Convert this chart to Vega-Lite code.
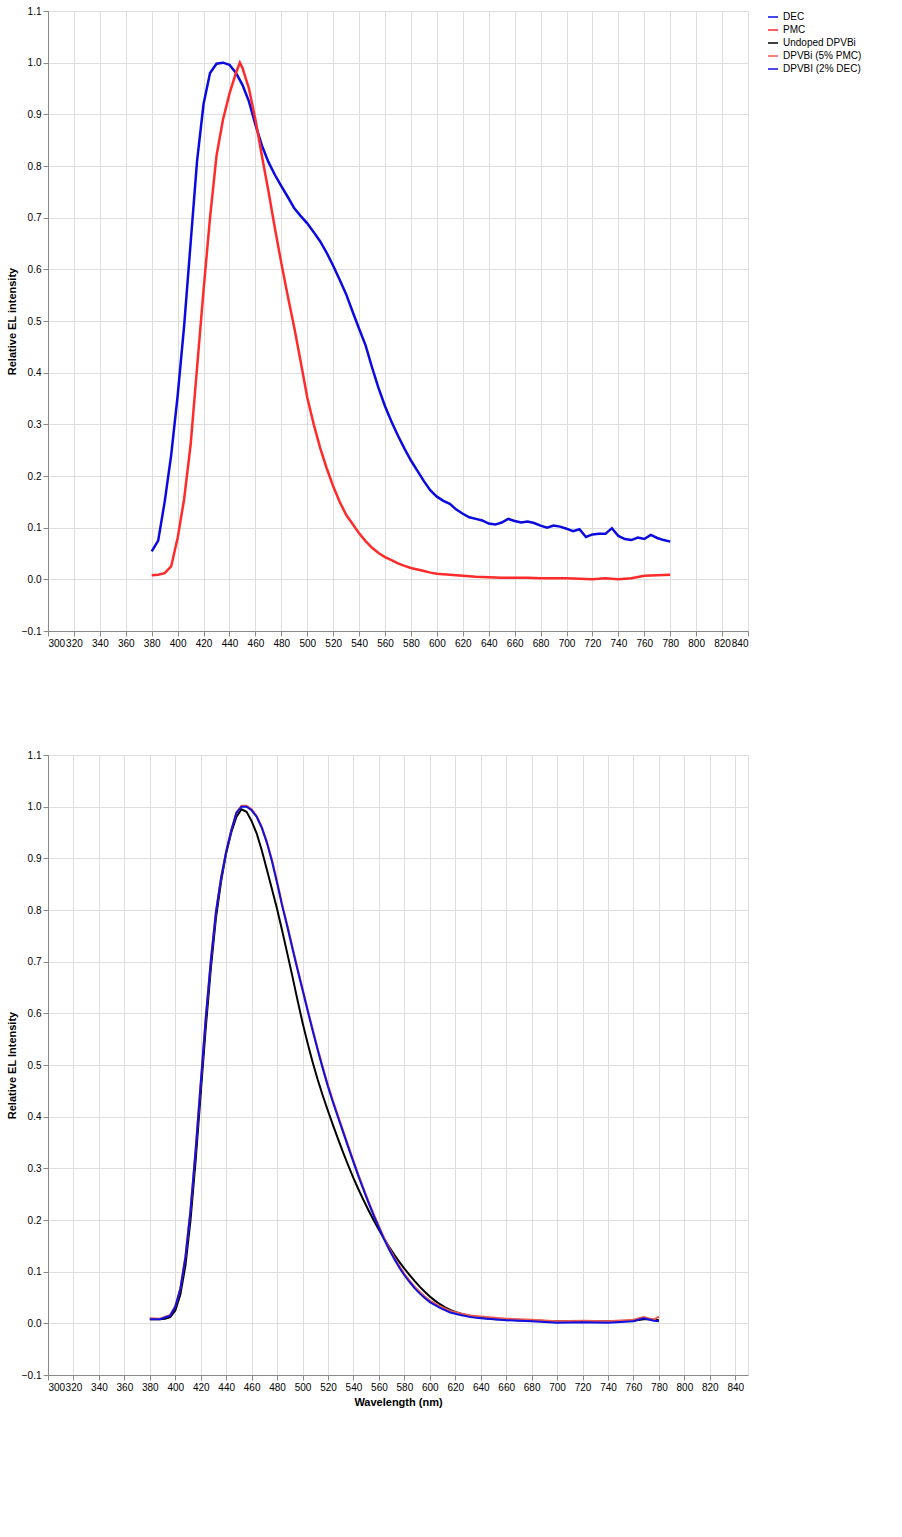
{
  "$schema": "https://vega.github.io/schema/vega-lite/v6.json",
  "background": "white",
  "spacing": 100,
  "vconcat": [
    {
      "width": 700,
      "height": 620,
      "data": {"values": [
        {"nm":380,"v":0.054,"series":"DEC"},{"nm":385,"v":0.075,"series":"DEC"},{"nm":390,"v":0.150,"series":"DEC"},{"nm":395,"v":0.240,"series":"DEC"},{"nm":400,"v":0.355,"series":"DEC"},{"nm":405,"v":0.490,"series":"DEC"},{"nm":410,"v":0.650,"series":"DEC"},{"nm":415,"v":0.810,"series":"DEC"},{"nm":420,"v":0.920,"series":"DEC"},{"nm":425,"v":0.980,"series":"DEC"},{"nm":430,"v":0.998,"series":"DEC"},{"nm":435,"v":1.000,"series":"DEC"},{"nm":440,"v":0.996,"series":"DEC"},{"nm":445,"v":0.980,"series":"DEC"},{"nm":450,"v":0.957,"series":"DEC"},{"nm":455,"v":0.925,"series":"DEC"},{"nm":460,"v":0.880,"series":"DEC"},{"nm":465,"v":0.840,"series":"DEC"},{"nm":470,"v":0.808,"series":"DEC"},{"nm":475,"v":0.783,"series":"DEC"},{"nm":480,"v":0.761,"series":"DEC"},{"nm":485,"v":0.740,"series":"DEC"},{"nm":490,"v":0.718,"series":"DEC"},{"nm":495,"v":0.703,"series":"DEC"},{"nm":500,"v":0.689,"series":"DEC"},{"nm":505,"v":0.672,"series":"DEC"},{"nm":510,"v":0.654,"series":"DEC"},{"nm":515,"v":0.632,"series":"DEC"},{"nm":520,"v":0.607,"series":"DEC"},{"nm":525,"v":0.580,"series":"DEC"},{"nm":530,"v":0.552,"series":"DEC"},{"nm":535,"v":0.518,"series":"DEC"},{"nm":540,"v":0.485,"series":"DEC"},{"nm":545,"v":0.453,"series":"DEC"},{"nm":550,"v":0.410,"series":"DEC"},{"nm":555,"v":0.370,"series":"DEC"},{"nm":560,"v":0.335,"series":"DEC"},{"nm":565,"v":0.305,"series":"DEC"},{"nm":570,"v":0.278,"series":"DEC"},{"nm":575,"v":0.253,"series":"DEC"},{"nm":580,"v":0.230,"series":"DEC"},{"nm":585,"v":0.210,"series":"DEC"},{"nm":590,"v":0.190,"series":"DEC"},{"nm":595,"v":0.172,"series":"DEC"},{"nm":600,"v":0.160,"series":"DEC"},{"nm":605,"v":0.152,"series":"DEC"},{"nm":610,"v":0.146,"series":"DEC"},{"nm":615,"v":0.135,"series":"DEC"},{"nm":620,"v":0.127,"series":"DEC"},{"nm":625,"v":0.120,"series":"DEC"},{"nm":630,"v":0.117,"series":"DEC"},{"nm":635,"v":0.114,"series":"DEC"},{"nm":640,"v":0.108,"series":"DEC"},{"nm":645,"v":0.106,"series":"DEC"},{"nm":650,"v":0.110,"series":"DEC"},{"nm":655,"v":0.117,"series":"DEC"},{"nm":660,"v":0.113,"series":"DEC"},{"nm":665,"v":0.110,"series":"DEC"},{"nm":670,"v":0.112,"series":"DEC"},{"nm":675,"v":0.109,"series":"DEC"},{"nm":680,"v":0.104,"series":"DEC"},{"nm":685,"v":0.100,"series":"DEC"},{"nm":690,"v":0.104,"series":"DEC"},{"nm":695,"v":0.102,"series":"DEC"},{"nm":700,"v":0.098,"series":"DEC"},{"nm":705,"v":0.093,"series":"DEC"},{"nm":710,"v":0.097,"series":"DEC"},{"nm":715,"v":0.082,"series":"DEC"},{"nm":720,"v":0.087,"series":"DEC"},{"nm":725,"v":0.088,"series":"DEC"},{"nm":730,"v":0.088,"series":"DEC"},{"nm":735,"v":0.099,"series":"DEC"},{"nm":740,"v":0.084,"series":"DEC"},{"nm":745,"v":0.078,"series":"DEC"},{"nm":750,"v":0.076,"series":"DEC"},{"nm":755,"v":0.081,"series":"DEC"},{"nm":760,"v":0.078,"series":"DEC"},{"nm":765,"v":0.086,"series":"DEC"},{"nm":770,"v":0.080,"series":"DEC"},{"nm":775,"v":0.076,"series":"DEC"},{"nm":780,"v":0.073,"series":"DEC"},
        {"nm":380,"v":0.008,"series":"PMC"},{"nm":385,"v":0.009,"series":"PMC"},{"nm":390,"v":0.012,"series":"PMC"},{"nm":395,"v":0.025,"series":"PMC"},{"nm":400,"v":0.080,"series":"PMC"},{"nm":405,"v":0.155,"series":"PMC"},{"nm":410,"v":0.260,"series":"PMC"},{"nm":415,"v":0.410,"series":"PMC"},{"nm":420,"v":0.560,"series":"PMC"},{"nm":425,"v":0.700,"series":"PMC"},{"nm":430,"v":0.820,"series":"PMC"},{"nm":435,"v":0.890,"series":"PMC"},{"nm":440,"v":0.940,"series":"PMC"},{"nm":445,"v":0.980,"series":"PMC"},{"nm":448,"v":1.000,"series":"PMC"},{"nm":450,"v":0.990,"series":"PMC"},{"nm":455,"v":0.950,"series":"PMC"},{"nm":460,"v":0.890,"series":"PMC"},{"nm":465,"v":0.820,"series":"PMC"},{"nm":470,"v":0.752,"series":"PMC"},{"nm":475,"v":0.680,"series":"PMC"},{"nm":480,"v":0.612,"series":"PMC"},{"nm":485,"v":0.548,"series":"PMC"},{"nm":490,"v":0.487,"series":"PMC"},{"nm":495,"v":0.420,"series":"PMC"},{"nm":500,"v":0.352,"series":"PMC"},{"nm":505,"v":0.300,"series":"PMC"},{"nm":510,"v":0.254,"series":"PMC"},{"nm":515,"v":0.215,"series":"PMC"},{"nm":520,"v":0.180,"series":"PMC"},{"nm":525,"v":0.150,"series":"PMC"},{"nm":530,"v":0.125,"series":"PMC"},{"nm":535,"v":0.107,"series":"PMC"},{"nm":540,"v":0.089,"series":"PMC"},{"nm":545,"v":0.074,"series":"PMC"},{"nm":550,"v":0.061,"series":"PMC"},{"nm":555,"v":0.051,"series":"PMC"},{"nm":560,"v":0.043,"series":"PMC"},{"nm":565,"v":0.037,"series":"PMC"},{"nm":570,"v":0.031,"series":"PMC"},{"nm":575,"v":0.026,"series":"PMC"},{"nm":580,"v":0.022,"series":"PMC"},{"nm":585,"v":0.019,"series":"PMC"},{"nm":590,"v":0.016,"series":"PMC"},{"nm":595,"v":0.013,"series":"PMC"},{"nm":600,"v":0.011,"series":"PMC"},{"nm":610,"v":0.009,"series":"PMC"},{"nm":620,"v":0.007,"series":"PMC"},{"nm":630,"v":0.005,"series":"PMC"},{"nm":640,"v":0.004,"series":"PMC"},{"nm":650,"v":0.003,"series":"PMC"},{"nm":660,"v":0.003,"series":"PMC"},{"nm":670,"v":0.003,"series":"PMC"},{"nm":680,"v":0.002,"series":"PMC"},{"nm":690,"v":0.002,"series":"PMC"},{"nm":700,"v":0.002,"series":"PMC"},{"nm":710,"v":0.001,"series":"PMC"},{"nm":720,"v":0.000,"series":"PMC"},{"nm":730,"v":0.002,"series":"PMC"},{"nm":740,"v":0.000,"series":"PMC"},{"nm":750,"v":0.002,"series":"PMC"},{"nm":760,"v":0.007,"series":"PMC"},{"nm":770,"v":0.008,"series":"PMC"},{"nm":780,"v":0.009,"series":"PMC"}
      ]},
      "mark": {"type": "line", "strokeWidth": 2.5},
      "encoding": {
        "x": {"field": "nm", "type": "quantitative", "scale": {"domain": [300, 840], "nice": false, "zero": false}, "title": null},
        "y": {"field": "v", "type": "quantitative", "scale": {"domain": [-0.1, 1.1], "nice": false, "zero": false}, "title": "Relative EL intensity"},
        "color": {"field": "series", "type": "nominal", "scale": {"domain": ["DEC", "PMC", "Undoped DPVBi", "DPVBi (5% PMC)", "DPVBI (2% DEC)"], "range": ["#0a0ae0", "#ff2a2a", "#000000", "#ec5a50", "#1010e0"]}, "title": null}
      }
    },
    {
      "width": 700,
      "height": 620,
      "data": {"values": [
        {"nm":380,"v":0.008,"series":"Undoped DPVBi"},{"nm":384,"v":0.008,"series":"Undoped DPVBi"},{"nm":388,"v":0.008,"series":"Undoped DPVBi"},{"nm":392,"v":0.009,"series":"Undoped DPVBi"},{"nm":396,"v":0.012,"series":"Undoped DPVBi"},{"nm":400,"v":0.025,"series":"Undoped DPVBi"},{"nm":404,"v":0.056,"series":"Undoped DPVBi"},{"nm":408,"v":0.112,"series":"Undoped DPVBi"},{"nm":412,"v":0.200,"series":"Undoped DPVBi"},{"nm":416,"v":0.315,"series":"Undoped DPVBi"},{"nm":420,"v":0.445,"series":"Undoped DPVBi"},{"nm":424,"v":0.573,"series":"Undoped DPVBi"},{"nm":428,"v":0.688,"series":"Undoped DPVBi"},{"nm":432,"v":0.785,"series":"Undoped DPVBi"},{"nm":436,"v":0.855,"series":"Undoped DPVBi"},{"nm":440,"v":0.910,"series":"Undoped DPVBi"},{"nm":444,"v":0.950,"series":"Undoped DPVBi"},{"nm":448,"v":0.980,"series":"Undoped DPVBi"},{"nm":452,"v":0.995,"series":"Undoped DPVBi"},{"nm":456,"v":0.990,"series":"Undoped DPVBi"},{"nm":460,"v":0.972,"series":"Undoped DPVBi"},{"nm":464,"v":0.948,"series":"Undoped DPVBi"},{"nm":468,"v":0.915,"series":"Undoped DPVBi"},{"nm":472,"v":0.878,"series":"Undoped DPVBi"},{"nm":476,"v":0.840,"series":"Undoped DPVBi"},{"nm":480,"v":0.802,"series":"Undoped DPVBi"},{"nm":484,"v":0.760,"series":"Undoped DPVBi"},{"nm":488,"v":0.716,"series":"Undoped DPVBi"},{"nm":492,"v":0.672,"series":"Undoped DPVBi"},{"nm":496,"v":0.626,"series":"Undoped DPVBi"},{"nm":500,"v":0.582,"series":"Undoped DPVBi"},{"nm":504,"v":0.542,"series":"Undoped DPVBi"},{"nm":508,"v":0.505,"series":"Undoped DPVBi"},{"nm":512,"v":0.471,"series":"Undoped DPVBi"},{"nm":516,"v":0.440,"series":"Undoped DPVBi"},{"nm":520,"v":0.411,"series":"Undoped DPVBi"},{"nm":524,"v":0.383,"series":"Undoped DPVBi"},{"nm":528,"v":0.356,"series":"Undoped DPVBi"},{"nm":532,"v":0.330,"series":"Undoped DPVBi"},{"nm":536,"v":0.305,"series":"Undoped DPVBi"},{"nm":540,"v":0.281,"series":"Undoped DPVBi"},{"nm":544,"v":0.259,"series":"Undoped DPVBi"},{"nm":548,"v":0.238,"series":"Undoped DPVBi"},{"nm":552,"v":0.218,"series":"Undoped DPVBi"},{"nm":556,"v":0.199,"series":"Undoped DPVBi"},{"nm":560,"v":0.181,"series":"Undoped DPVBi"},{"nm":564,"v":0.164,"series":"Undoped DPVBi"},{"nm":568,"v":0.148,"series":"Undoped DPVBi"},{"nm":572,"v":0.133,"series":"Undoped DPVBi"},{"nm":576,"v":0.119,"series":"Undoped DPVBi"},{"nm":580,"v":0.106,"series":"Undoped DPVBi"},{"nm":584,"v":0.094,"series":"Undoped DPVBi"},{"nm":588,"v":0.082,"series":"Undoped DPVBi"},{"nm":592,"v":0.071,"series":"Undoped DPVBi"},{"nm":596,"v":0.061,"series":"Undoped DPVBi"},{"nm":600,"v":0.052,"series":"Undoped DPVBi"},{"nm":604,"v":0.044,"series":"Undoped DPVBi"},{"nm":608,"v":0.037,"series":"Undoped DPVBi"},{"nm":612,"v":0.031,"series":"Undoped DPVBi"},{"nm":616,"v":0.026,"series":"Undoped DPVBi"},{"nm":620,"v":0.022,"series":"Undoped DPVBi"},{"nm":624,"v":0.019,"series":"Undoped DPVBi"},{"nm":628,"v":0.016,"series":"Undoped DPVBi"},{"nm":632,"v":0.014,"series":"Undoped DPVBi"},{"nm":636,"v":0.012,"series":"Undoped DPVBi"},{"nm":640,"v":0.011,"series":"Undoped DPVBi"},{"nm":644,"v":0.010,"series":"Undoped DPVBi"},{"nm":648,"v":0.009,"series":"Undoped DPVBi"},{"nm":652,"v":0.008,"series":"Undoped DPVBi"},{"nm":656,"v":0.008,"series":"Undoped DPVBi"},{"nm":660,"v":0.007,"series":"Undoped DPVBi"},{"nm":664,"v":0.007,"series":"Undoped DPVBi"},{"nm":668,"v":0.006,"series":"Undoped DPVBi"},{"nm":672,"v":0.006,"series":"Undoped DPVBi"},{"nm":676,"v":0.006,"series":"Undoped DPVBi"},{"nm":680,"v":0.005,"series":"Undoped DPVBi"},{"nm":684,"v":0.005,"series":"Undoped DPVBi"},{"nm":688,"v":0.005,"series":"Undoped DPVBi"},{"nm":692,"v":0.004,"series":"Undoped DPVBi"},{"nm":696,"v":0.004,"series":"Undoped DPVBi"},{"nm":700,"v":0.004,"series":"Undoped DPVBi"},{"nm":710,"v":0.004,"series":"Undoped DPVBi"},{"nm":720,"v":0.004,"series":"Undoped DPVBi"},{"nm":730,"v":0.004,"series":"Undoped DPVBi"},{"nm":740,"v":0.004,"series":"Undoped DPVBi"},{"nm":750,"v":0.004,"series":"Undoped DPVBi"},{"nm":760,"v":0.005,"series":"Undoped DPVBi"},{"nm":768,"v":0.008,"series":"Undoped DPVBi"},{"nm":772,"v":0.008,"series":"Undoped DPVBi"},{"nm":780,"v":0.006,"series":"Undoped DPVBi"},
        {"nm":380,"v":0.010,"series":"DPVBi (5% PMC)"},{"nm":388,"v":0.009,"series":"DPVBi (5% PMC)"},{"nm":396,"v":0.016,"series":"DPVBi (5% PMC)"},{"nm":400,"v":0.033,"series":"DPVBi (5% PMC)"},{"nm":404,"v":0.068,"series":"DPVBi (5% PMC)"},{"nm":408,"v":0.130,"series":"DPVBi (5% PMC)"},{"nm":412,"v":0.221,"series":"DPVBi (5% PMC)"},{"nm":416,"v":0.337,"series":"DPVBi (5% PMC)"},{"nm":420,"v":0.466,"series":"DPVBi (5% PMC)"},{"nm":424,"v":0.594,"series":"DPVBi (5% PMC)"},{"nm":428,"v":0.705,"series":"DPVBi (5% PMC)"},{"nm":432,"v":0.798,"series":"DPVBi (5% PMC)"},{"nm":436,"v":0.863,"series":"DPVBi (5% PMC)"},{"nm":440,"v":0.914,"series":"DPVBi (5% PMC)"},{"nm":444,"v":0.955,"series":"DPVBi (5% PMC)"},{"nm":448,"v":0.989,"series":"DPVBi (5% PMC)"},{"nm":452,"v":1.002,"series":"DPVBi (5% PMC)"},{"nm":456,"v":1.002,"series":"DPVBi (5% PMC)"},{"nm":460,"v":0.995,"series":"DPVBi (5% PMC)"},{"nm":464,"v":0.982,"series":"DPVBi (5% PMC)"},{"nm":468,"v":0.961,"series":"DPVBi (5% PMC)"},{"nm":472,"v":0.932,"series":"DPVBi (5% PMC)"},{"nm":476,"v":0.897,"series":"DPVBi (5% PMC)"},{"nm":480,"v":0.855,"series":"DPVBi (5% PMC)"},{"nm":484,"v":0.811,"series":"DPVBi (5% PMC)"},{"nm":488,"v":0.771,"series":"DPVBi (5% PMC)"},{"nm":492,"v":0.729,"series":"DPVBi (5% PMC)"},{"nm":496,"v":0.688,"series":"DPVBi (5% PMC)"},{"nm":500,"v":0.648,"series":"DPVBi (5% PMC)"},{"nm":504,"v":0.608,"series":"DPVBi (5% PMC)"},{"nm":508,"v":0.569,"series":"DPVBi (5% PMC)"},{"nm":512,"v":0.531,"series":"DPVBi (5% PMC)"},{"nm":516,"v":0.495,"series":"DPVBi (5% PMC)"},{"nm":520,"v":0.461,"series":"DPVBi (5% PMC)"},{"nm":524,"v":0.430,"series":"DPVBi (5% PMC)"},{"nm":528,"v":0.401,"series":"DPVBi (5% PMC)"},{"nm":532,"v":0.372,"series":"DPVBi (5% PMC)"},{"nm":536,"v":0.343,"series":"DPVBi (5% PMC)"},{"nm":540,"v":0.315,"series":"DPVBi (5% PMC)"},{"nm":544,"v":0.287,"series":"DPVBi (5% PMC)"},{"nm":548,"v":0.261,"series":"DPVBi (5% PMC)"},{"nm":552,"v":0.235,"series":"DPVBi (5% PMC)"},{"nm":556,"v":0.211,"series":"DPVBi (5% PMC)"},{"nm":560,"v":0.188,"series":"DPVBi (5% PMC)"},{"nm":564,"v":0.166,"series":"DPVBi (5% PMC)"},{"nm":568,"v":0.146,"series":"DPVBi (5% PMC)"},{"nm":572,"v":0.128,"series":"DPVBi (5% PMC)"},{"nm":576,"v":0.111,"series":"DPVBi (5% PMC)"},{"nm":580,"v":0.096,"series":"DPVBi (5% PMC)"},{"nm":584,"v":0.083,"series":"DPVBi (5% PMC)"},{"nm":588,"v":0.071,"series":"DPVBi (5% PMC)"},{"nm":592,"v":0.061,"series":"DPVBi (5% PMC)"},{"nm":596,"v":0.052,"series":"DPVBi (5% PMC)"},{"nm":600,"v":0.044,"series":"DPVBi (5% PMC)"},{"nm":608,"v":0.033,"series":"DPVBi (5% PMC)"},{"nm":616,"v":0.024,"series":"DPVBi (5% PMC)"},{"nm":624,"v":0.019,"series":"DPVBi (5% PMC)"},{"nm":632,"v":0.015,"series":"DPVBi (5% PMC)"},{"nm":640,"v":0.013,"series":"DPVBi (5% PMC)"},{"nm":660,"v":0.009,"series":"DPVBi (5% PMC)"},{"nm":680,"v":0.007,"series":"DPVBi (5% PMC)"},{"nm":700,"v":0.004,"series":"DPVBi (5% PMC)"},{"nm":720,"v":0.005,"series":"DPVBi (5% PMC)"},{"nm":740,"v":0.004,"series":"DPVBi (5% PMC)"},{"nm":760,"v":0.007,"series":"DPVBi (5% PMC)"},{"nm":768,"v":0.012,"series":"DPVBi (5% PMC)"},{"nm":776,"v":0.007,"series":"DPVBi (5% PMC)"},{"nm":780,"v":0.013,"series":"DPVBi (5% PMC)"},
        {"nm":380,"v":0.008,"series":"DPVBI (2% DEC)"},{"nm":388,"v":0.008,"series":"DPVBI (2% DEC)"},{"nm":396,"v":0.015,"series":"DPVBI (2% DEC)"},{"nm":400,"v":0.032,"series":"DPVBI (2% DEC)"},{"nm":404,"v":0.067,"series":"DPVBI (2% DEC)"},{"nm":408,"v":0.128,"series":"DPVBI (2% DEC)"},{"nm":412,"v":0.219,"series":"DPVBI (2% DEC)"},{"nm":416,"v":0.335,"series":"DPVBI (2% DEC)"},{"nm":420,"v":0.464,"series":"DPVBI (2% DEC)"},{"nm":424,"v":0.592,"series":"DPVBI (2% DEC)"},{"nm":428,"v":0.703,"series":"DPVBI (2% DEC)"},{"nm":432,"v":0.797,"series":"DPVBI (2% DEC)"},{"nm":436,"v":0.862,"series":"DPVBI (2% DEC)"},{"nm":440,"v":0.913,"series":"DPVBI (2% DEC)"},{"nm":444,"v":0.954,"series":"DPVBI (2% DEC)"},{"nm":448,"v":0.988,"series":"DPVBI (2% DEC)"},{"nm":452,"v":1.000,"series":"DPVBI (2% DEC)"},{"nm":456,"v":1.000,"series":"DPVBI (2% DEC)"},{"nm":460,"v":0.993,"series":"DPVBI (2% DEC)"},{"nm":464,"v":0.980,"series":"DPVBI (2% DEC)"},{"nm":468,"v":0.959,"series":"DPVBI (2% DEC)"},{"nm":472,"v":0.930,"series":"DPVBI (2% DEC)"},{"nm":476,"v":0.894,"series":"DPVBI (2% DEC)"},{"nm":480,"v":0.852,"series":"DPVBI (2% DEC)"},{"nm":484,"v":0.808,"series":"DPVBI (2% DEC)"},{"nm":488,"v":0.768,"series":"DPVBI (2% DEC)"},{"nm":492,"v":0.726,"series":"DPVBI (2% DEC)"},{"nm":496,"v":0.685,"series":"DPVBI (2% DEC)"},{"nm":500,"v":0.645,"series":"DPVBI (2% DEC)"},{"nm":504,"v":0.605,"series":"DPVBI (2% DEC)"},{"nm":508,"v":0.566,"series":"DPVBI (2% DEC)"},{"nm":512,"v":0.528,"series":"DPVBI (2% DEC)"},{"nm":516,"v":0.492,"series":"DPVBI (2% DEC)"},{"nm":520,"v":0.458,"series":"DPVBI (2% DEC)"},{"nm":524,"v":0.427,"series":"DPVBI (2% DEC)"},{"nm":528,"v":0.398,"series":"DPVBI (2% DEC)"},{"nm":532,"v":0.369,"series":"DPVBI (2% DEC)"},{"nm":536,"v":0.340,"series":"DPVBI (2% DEC)"},{"nm":540,"v":0.312,"series":"DPVBI (2% DEC)"},{"nm":544,"v":0.284,"series":"DPVBI (2% DEC)"},{"nm":548,"v":0.258,"series":"DPVBI (2% DEC)"},{"nm":552,"v":0.232,"series":"DPVBI (2% DEC)"},{"nm":556,"v":0.208,"series":"DPVBI (2% DEC)"},{"nm":560,"v":0.185,"series":"DPVBI (2% DEC)"},{"nm":564,"v":0.163,"series":"DPVBI (2% DEC)"},{"nm":568,"v":0.143,"series":"DPVBI (2% DEC)"},{"nm":572,"v":0.125,"series":"DPVBI (2% DEC)"},{"nm":576,"v":0.108,"series":"DPVBI (2% DEC)"},{"nm":580,"v":0.093,"series":"DPVBI (2% DEC)"},{"nm":584,"v":0.080,"series":"DPVBI (2% DEC)"},{"nm":588,"v":0.068,"series":"DPVBI (2% DEC)"},{"nm":592,"v":0.058,"series":"DPVBI (2% DEC)"},{"nm":596,"v":0.049,"series":"DPVBI (2% DEC)"},{"nm":600,"v":0.041,"series":"DPVBI (2% DEC)"},{"nm":608,"v":0.030,"series":"DPVBI (2% DEC)"},{"nm":616,"v":0.021,"series":"DPVBI (2% DEC)"},{"nm":624,"v":0.016,"series":"DPVBI (2% DEC)"},{"nm":632,"v":0.012,"series":"DPVBI (2% DEC)"},{"nm":640,"v":0.010,"series":"DPVBI (2% DEC)"},{"nm":660,"v":0.006,"series":"DPVBI (2% DEC)"},{"nm":680,"v":0.004,"series":"DPVBI (2% DEC)"},{"nm":700,"v":0.001,"series":"DPVBI (2% DEC)"},{"nm":720,"v":0.002,"series":"DPVBI (2% DEC)"},{"nm":740,"v":0.001,"series":"DPVBI (2% DEC)"},{"nm":760,"v":0.004,"series":"DPVBI (2% DEC)"},{"nm":768,"v":0.010,"series":"DPVBI (2% DEC)"},{"nm":776,"v":0.005,"series":"DPVBI (2% DEC)"},{"nm":780,"v":0.004,"series":"DPVBI (2% DEC)"}
      ]},
      "layer": [
        {
          "mark": {"type": "line", "strokeWidth": 2},
          "encoding": {
            "x": {"field": "nm", "type": "quantitative", "scale": {"domain": [300, 850], "nice": false, "zero": false}, "title": "Wavelength (nm)"},
            "y": {"field": "v", "type": "quantitative", "scale": {"domain": [-0.1, 1.1], "nice": false, "zero": false}, "title": "Relative EL Intensity"},
            "color": {"field": "series", "type": "nominal", "scale": {"domain": ["DEC", "PMC", "Undoped DPVBi", "DPVBi (5% PMC)", "DPVBI (2% DEC)"], "range": ["#0a0ae0", "#ff2a2a", "#000000", "#ec5a50", "#1010e0"]}, "title": null}
          }
        }
      ]
    }
  ]
}
